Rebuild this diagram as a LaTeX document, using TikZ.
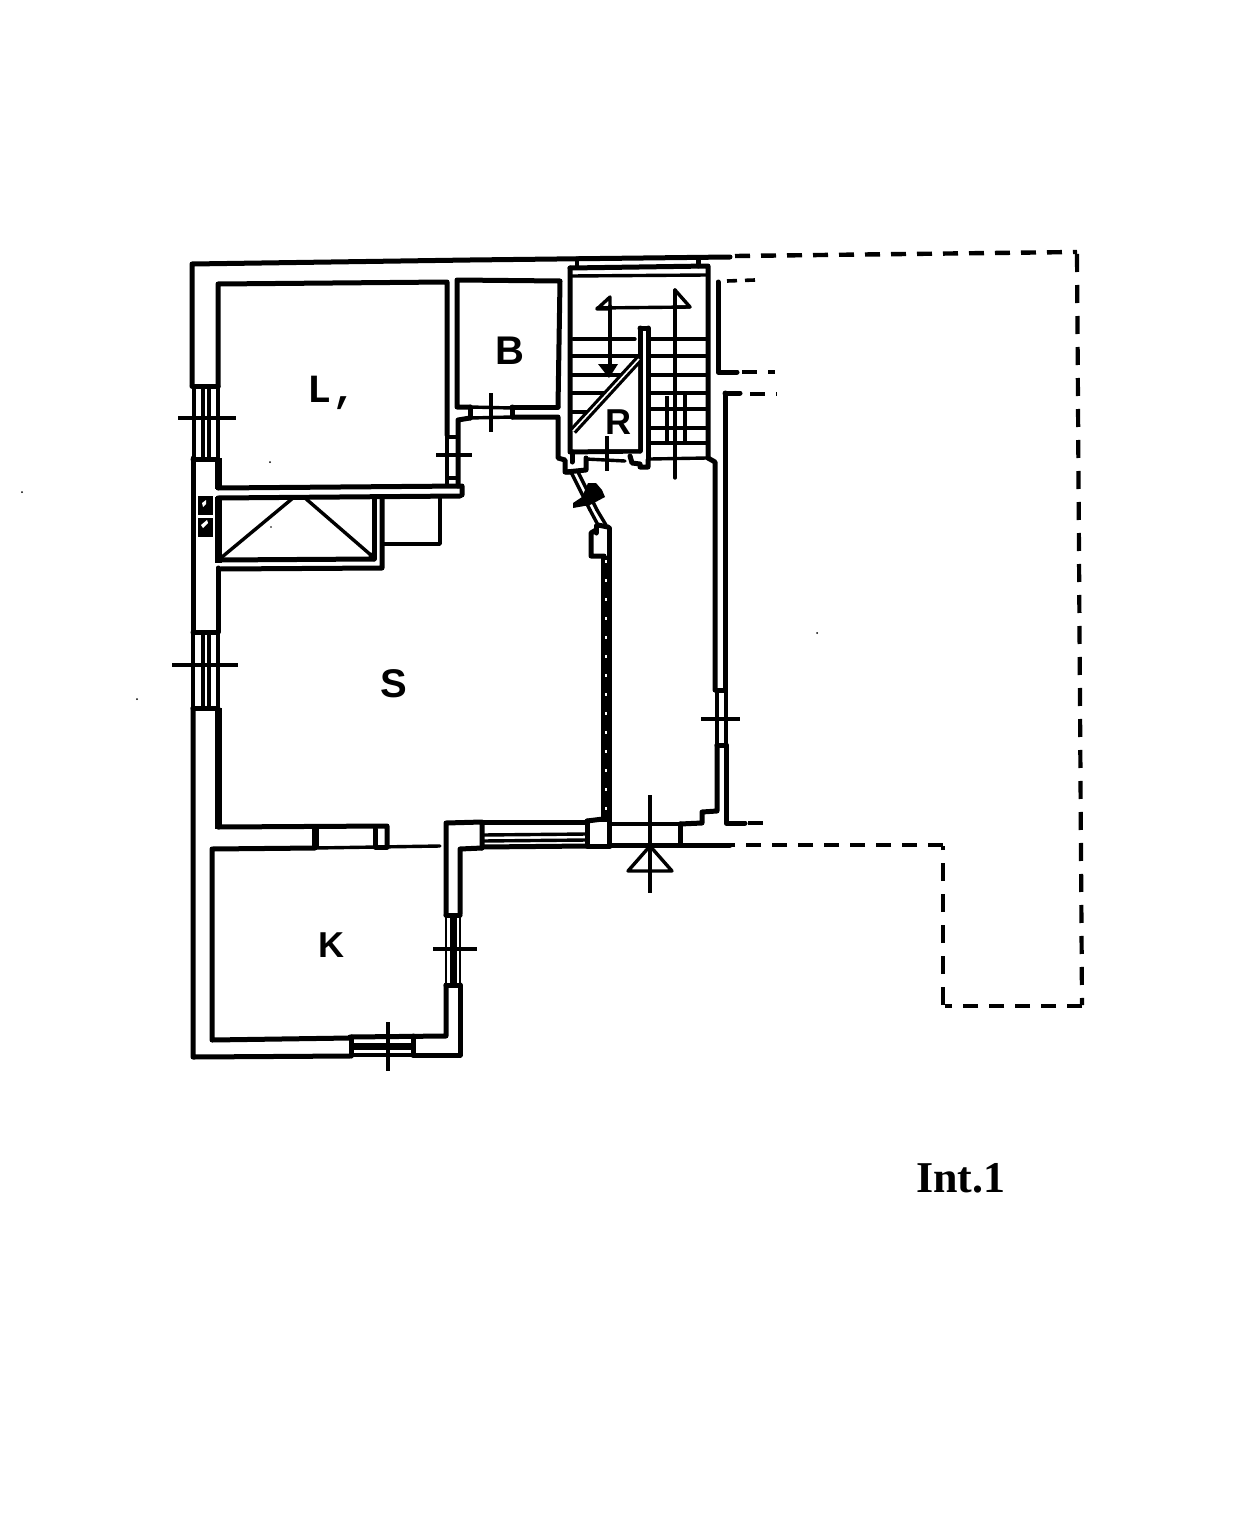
\documentclass[tikz,border=0pt]{standalone}
\usepackage{fontspec}
\setmainfont{Liberation Serif}
\newfontfamily\planfont{Liberation Sans}
\newfontfamily\planmono{Liberation Mono}
\tikzset{
  wall/.style={line width=5pt,line cap=round,line join=round},
  heavy/.style={line width=7pt,line cap=butt,line join=miter},
  fine/.style={line width=3.4pt,line cap=round,line join=round},
  hair/.style={line width=2pt},
  tick/.style={line width=3.4pt},
  dashline/.style={line width=4.4pt,dash pattern=on 15pt off 11pt},
  dashside/.style={line width=4.2pt,dash pattern=on 18pt off 13pt},
  roomlabel/.style={font=\planfont\bfseries\fontsize{40}{40}\selectfont,inner sep=0pt},
  speck/.style={fill=black,draw=none},
}
\begin{document}
\begin{tikzpicture}[x=1pt,y=-1pt]
\useasboundingbox (0,0) rectangle (1239,1536);
\fill[white] (0,0) rectangle (1239,1536);

% outer shell, top and left
\draw[wall] (192,385) -- (192,264) -- (470,260) -- (730,257);
\draw[wall] (193,458) -- (193,632);
\draw[wall] (193,708) -- (193,1057) -- (350,1056);
\draw[wall] (413,1055) -- (460,1055) -- (460,985);
\draw[wall] (460,914) -- (460,849) -- (482,848);

% room L
\draw[wall] (218,387) -- (218,284) -- (447,282) -- (447,435);
\draw[heavy] (218,458) -- (218,489);
\draw[wall] (218,488) -- (462,486) -- (462,495);
\draw[wall] (218,498) -- (460,496);
\draw[wall] (458,486) -- (458,420) -- (470,418);
\draw[fine] (447,435) -- (447,486);
\draw[fine] (447,437) -- (458,437);
\draw[fine] (447,478) -- (458,478);
\draw[tick] (436,455) -- (472,455);

% window left top
\draw[wall] (192,386) -- (218,386);
\draw[wall] (193,459) -- (218,459);
\foreach \x in {194,203,209,218} {\draw[fine] (\x,386) -- (\x,459);}
\draw[tick] (178,418) -- (236,418);

% chimney flues
\fill (198,496) rectangle (213,515);
\fill (198,518) rectangle (213,537);
\fill[white] (202,503) -- (206,500) -- (206,504) -- (203,507) -- cycle;
\fill[white] (201,525) -- (207,520) -- (208,523) -- (203,528) -- cycle;

% closet with triangle
\draw[heavy] (218,497) -- (218,563);
\draw[wall] (218,560) -- (374,559);
\draw[wall] (374,498) -- (374,559);
\draw[wall] (382,497) -- (382,568) -- (220,569);
\draw[wall] (218,568) -- (218,632);
\draw[fine] (222,557) -- (293,498);
\draw[fine] (305,498) -- (372,556);
\fill (372,556) circle (3.5pt);
\draw[fine] (383,544) -- (440,544) -- (440,497);

% window left bottom
\draw[wall] (193,632) -- (218,632);
\draw[wall] (193,708) -- (218,708);
\foreach \x in {193,203,209,218} {\draw[fine] (\x,632) -- (\x,708);}
\draw[tick] (172,665) -- (238,665);
\draw[heavy] (218,708) -- (218,829);

% partition above K
\draw[wall] (218,827) -- (387,826) -- (387,847);
\draw[heavy] (315,828) -- (315,849);
\draw[wall] (375,829) -- (375,847) -- (387,847);
\draw[fine] (315,848) -- (440,846);

% room K
\draw[wall] (315,848) -- (212,849) -- (212,1040) -- (350,1038);
\draw[wall] (350,1037) -- (446,1036) -- (446,985);
\draw[wall] (446,915) -- (446,823) -- (482,822) -- (482,848);
\draw[wall] (446,915) -- (460,915);
\draw[wall] (446,985) -- (460,985);
\draw[heavy] (453,915) -- (453,985);
\draw[hair] (446,915) -- (446,985);
\draw[hair] (460,915) -- (460,985);
\draw[tick] (433,949) -- (477,949);
\draw[wall] (351,1037) -- (351,1056);
\draw[wall] (413,1036) -- (413,1055);
\draw[heavy] (351,1046) -- (413,1046);
\draw[fine] (351,1037) -- (413,1037);
\draw[fine] (351,1055) -- (413,1055);
\draw[tick] (388,1022) -- (388,1071);

% south window and pier
\draw[wall] (482,822) -- (587,822);
\draw[fine] (482,835) -- (587,834);
\draw[fine] (482,841) -- (587,840);
\draw[wall] (482,847) -- (587,846);
\draw[wall] (587,821) -- (587,846) -- (610,846);
\draw[wall] (587,821) -- (603,819);

% corridor wall
\draw[line width=10pt] (606,556) -- (606,822);
\draw[line width=1.5pt,white,dash pattern=on 3pt off 16pt] (606,560) -- (606,816);
\draw[wall] (609,528) -- (609,846);

% entrance
\draw[fine] (610,824) -- (680,824);
\draw[wall] (610,845) -- (730,845);
\draw[wall] (680,824) -- (680,845);
\draw[wall] (680,824) -- (702,823) -- (702,812) -- (717,811) -- (717,745);
\draw[fine] (628,871) -- (650,846) -- (672,871) -- cycle;
\draw[tick] (650,795) -- (650,893);

% east corridor wall
\draw[wall] (708,458) -- (715,462) -- (715,690);
\draw[wall] (725,393) -- (725,690);
\draw[wall] (726,745) -- (726,823) -- (745,823);
\draw[wall] (717,745) -- (726,745);
\draw[wall] (716,690) -- (725,690);
\draw[fine] (717,690) -- (717,745);
\draw[fine] (726,690) -- (726,745);
\draw[tick] (701,719) -- (740,719);

% B room
\draw[wall] (558,407) -- (560,281) -- (457,280) -- (457,407) -- (470,407);
\draw[fine] (470,407) -- (512,408);
\draw[wall] (512,407) -- (558,407);
\draw[wall] (470,407) -- (470,418);
\draw[wall] (512,407) -- (512,417);
\draw[fine] (470,418) -- (512,417);
\draw[wall] (512,417) -- (558,417) -- (558,458) -- (565,460) -- (565,472) -- (572,472);
\draw[tick] (491,393) -- (491,432);

% stair well
\draw[wall] (570,268) -- (570,452) -- (640,451);
\draw[wall] (570,268) -- (708,266) -- (708,458);
\draw[fine] (577,258) -- (577,266);
\draw[wall] (698,258) -- (698,266);
\draw[fine] (571,276) -- (707,275);
\draw[wall] (640,328) -- (648,328);
\draw[wall] (640,328) -- (640,451);
\draw[wall] (648,328) -- (648,459);
\foreach \y/\xa in {339/573,356/572,375/572,393/572,412/572} {
  \draw[fine] (\xa,\y) -- ({\y==339 ? 635 : 638},\y);
}
\foreach \y in {339,356,375,393,409,428,443} {\draw[fine] (648,\y) -- (707,\y);}
\draw[fine] (650,459) -- (707,458);
% white-out under the flight cut by the diagonal
\fill[white] (574,434) -- (638,365) -- (638,449) -- (574,449) -- cycle;
\draw[line width=8pt] (573,431) -- (639,359);
\draw[line width=1.6pt,white] (573,431) -- (639,359);
\draw[fine] (610,306) -- (610,366);
\draw[fine] (675,290) -- (675,478);
\draw[fine] (597,308) -- (690,307);
\draw[fine] (610,297) -- (597,309) -- (610,309) -- cycle;
\draw[fine] (675,290) -- (690,307) -- (675,307) -- cycle;
\fill (598,364) -- (618,364) -- (609,378) -- cycle;
\draw[line width=4pt] (667,396) -- (667,443);
\draw[fine] (685,395) -- (685,443);
\draw[tick] (607,436) -- (607,471);

% threshold under stair
\draw[wall] (572,452) -- (572,462);
\draw[wall] (586,458) -- (586,470) -- (566,472);
\draw[fine] (586,459) -- (625,461);
\draw[wall] (630,456) -- (632,463) -- (640,464) -- (640,467) -- (648,467) -- (648,460);

% slanted door wall
\draw[fine] (571,472) -- (590,510);
\draw[fine] (578,472) -- (597,510);
\draw[fine] (590,510) -- (598,525);
\draw[fine] (597,510) -- (606,525);
\fill (588,483) -- (596,483) -- (602,490) -- (605,497) -- (590,505) -- (573,508) -- (573,503) -- (582,497) -- cycle;
\draw[wall] (598,525) -- (608,527);
\draw[wall] (596,530) -- (591,533) -- (591,556) -- (604,556);
\draw[wall] (596,526) -- (596,533);

% dashed outlines
\draw[dashline] (735,256) -- (1077,252);
\draw[dashside] (1077,254) -- (1082,1005);
\draw[dashline] (1082,1006) -- (945,1006);
\draw[dashside] (943,1005) -- (943,846);
\draw[dashline] (943,845) -- (730,845);
\draw[line width=3.6pt,dash pattern=on 10pt off 8pt] (727,281) -- (755,280);
\draw[wall] (718,282) -- (718,372) -- (737,372);
\draw[dashline] (742,372) -- (775,372);
\draw[wall] (725,393) -- (740,393);
\draw[dashline] (750,394) -- (777,394);
\draw[dashline] (748,823) -- (764,823);

% specks
\fill[speck] (22,492) circle (1pt);
\fill[speck] (137,699) circle (1pt);
\fill[speck] (817,633) circle (1pt);
\fill[speck] (270,462) circle (1pt);
\fill[speck] (271,527) circle (0.8pt);

% labels
\node[roomlabel] (labB) at (510,351) {B};
\node[roomlabel,font=\planmono\bfseries\fontsize{40}{40}\selectfont] (labL) at (332,393) {L,};
\node[roomlabel,font=\planfont\bfseries\fontsize{36}{36}\selectfont] (labR) at (618,422) {R};
\node[roomlabel] (labS) at (394,684) {S};
\node[roomlabel,font=\planfont\bfseries\fontsize{36}{36}\selectfont] (labK) at (331,945) {K};
\node[inner sep=0pt,font=\bfseries\fontsize{44}{44}\selectfont] (intlab) at (961,1178) {Int.1};
\end{tikzpicture}
\end{document}
